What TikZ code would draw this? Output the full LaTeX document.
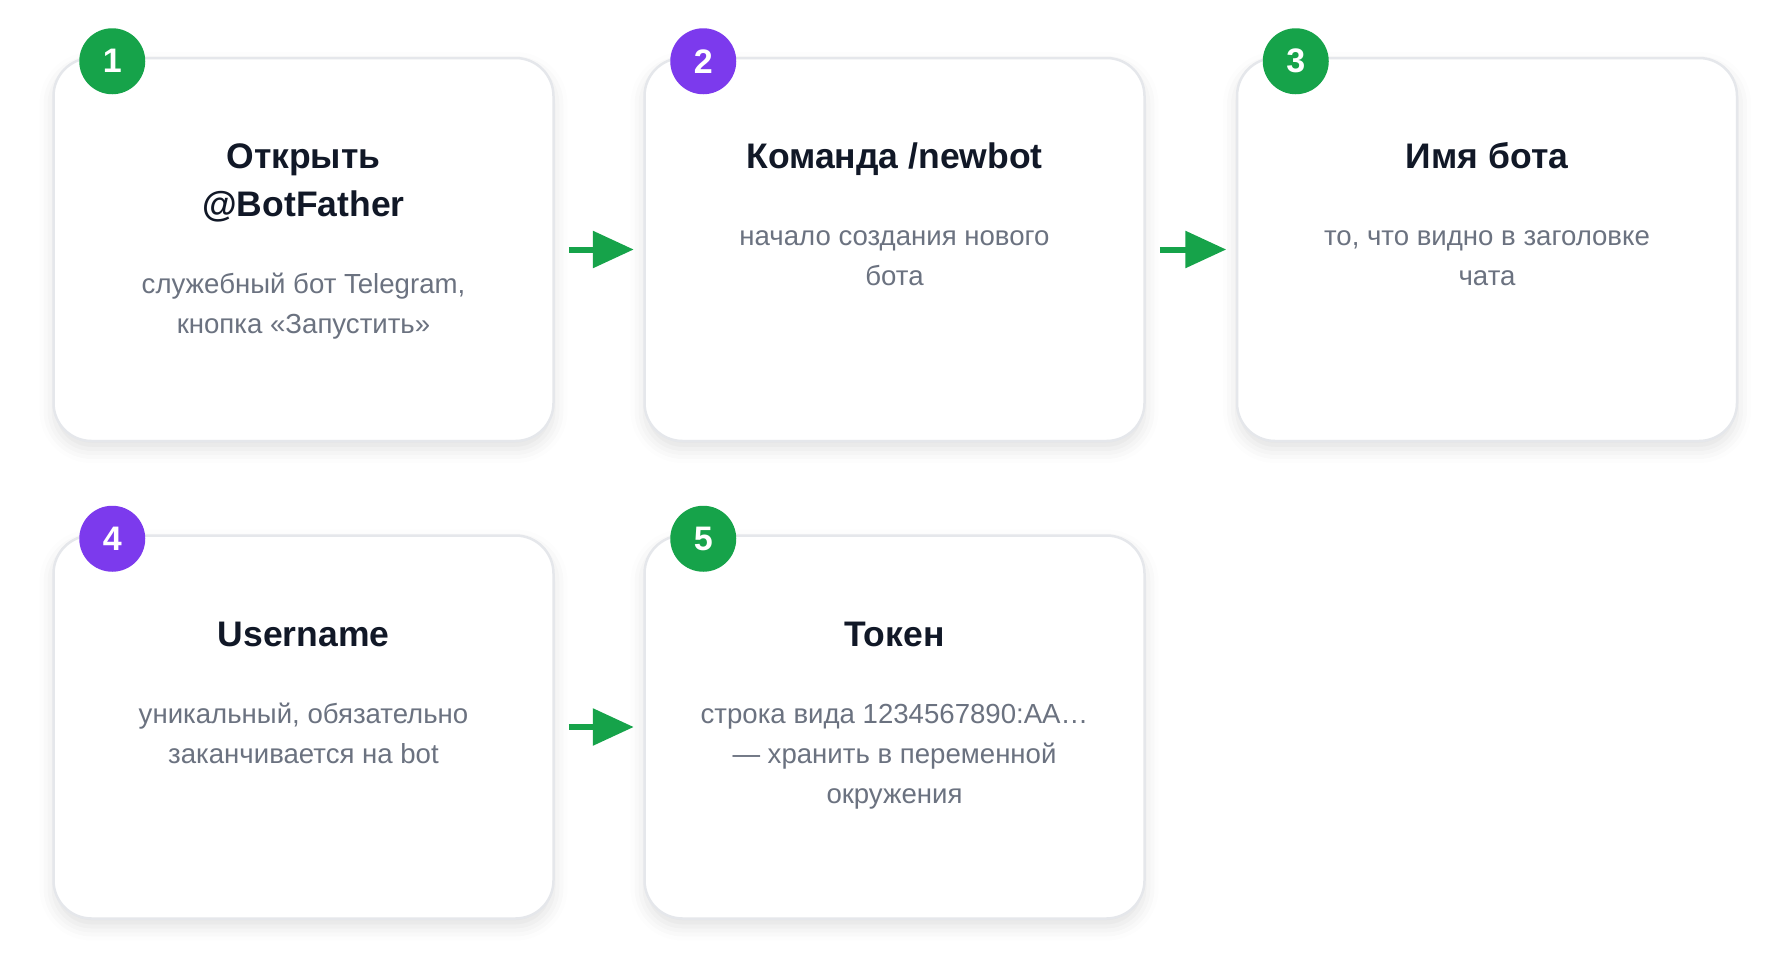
\documentclass[tikz,border=0pt]{standalone}
\usepackage{fontspec}
\setmainfont{Liberation Sans}
\usetikzlibrary{arrows.meta,positioning,shadows.blur}
\definecolor{stepgreen}{HTML}{16A34A}
\definecolor{steppurple}{HTML}{7C3AED}
\definecolor{cardline}{HTML}{E5E7EB}
\definecolor{titleink}{HTML}{111827}
\definecolor{descink}{HTML}{6B7280}
\tikzset{
  card/.style={draw=cardline,line width=2.5pt,fill=white,rounded corners=38pt,minimum width=500pt,minimum height=383pt,
    blur shadow={shadow xshift=0pt,shadow yshift=-8pt,shadow blur radius=14pt,shadow opacity=12}},
  badge/.style={circle,fill=#1,text=white,minimum size=66pt,inner sep=0pt,font=\bfseries\fontsize{34}{34}\selectfont},
  title/.style={anchor=base,align=center,inner sep=0pt,text=titleink,font=\bfseries\fontsize{35.5}{48}\selectfont},
  desc/.style={anchor=base,align=center,inner sep=0pt,text=descink,font=\fontsize{27.6}{40}\selectfont},
  flow/.style={-{Triangle[length=41pt,width=36pt]},line width=6pt,draw=stepgreen,shorten <=14pt,shorten >=9.5pt}
}

\begin{document}
\begin{tikzpicture}[x=1pt,y=-1pt]
    \useasboundingbox (0,0) rectangle (1790,977);
    %cards
    \node (c1) at (303.5,249.5) [card]{};
    \node (c2) at (894.5,249.5) [card]{};
    \node (c3) at (1487,249.5) [card]{};
    \node (c4) at (303.5,727) [card]{};
    \node (c5) at (894.5,727) [card]{};

    %badges
    \node (b1) at ([xshift=60pt,yshift=-4.5pt]c1.north west) [badge=stepgreen]{1};
    \node (b2) at ([xshift=60pt,yshift=-4.5pt]c2.north west) [badge=steppurple]{2};
    \node (b3) at ([xshift=60pt,yshift=-4.5pt]c3.north west) [badge=stepgreen]{3};
    \node (b4) at ([xshift=60pt,yshift=-4.5pt]c4.north west) [badge=steppurple]{4};
    \node (b5) at ([xshift=60pt,yshift=-4.5pt]c5.north west) [badge=stepgreen]{5};

    %titles and texts (base = last line)
    \node (t1) at ([yshift=-160pt]c1.north) [title]{Открыть\\@BotFather};
    \node (d1) at ([yshift=-117pt]t1.base) [desc]{служебный бот Telegram,\\кнопка «Запустить»};
    \node (t2) at ([yshift=-112pt]c2.north) [title]{Команда /newbot};
    \node (d2) at ([yshift=-117pt]t2.base) [desc]{начало создания нового\\бота};
    \node (t3) at ([yshift=-112pt]c3.north) [title]{Имя бота};
    \node (d3) at ([yshift=-117pt]t3.base) [desc]{то, что видно в заголовке\\чата};
    \node (t4) at ([yshift=-112pt]c4.north) [title]{Username};
    \node (d4) at ([yshift=-117pt]t4.base) [desc]{уникальный, обязательно\\заканчивается на bot};
    \node (t5) at ([yshift=-112pt]c5.north) [title]{Токен};
    \node (d5) at ([yshift=-157pt]t5.base) [desc]{строка вида 1234567890:AA…\\— хранить в переменной\\окружения};

    \draw [flow] (c1) -- (c2);
    \draw [flow] (c2) -- (c3);
    \draw [flow] (c4) -- (c5);
\end{tikzpicture}
\end{document}
